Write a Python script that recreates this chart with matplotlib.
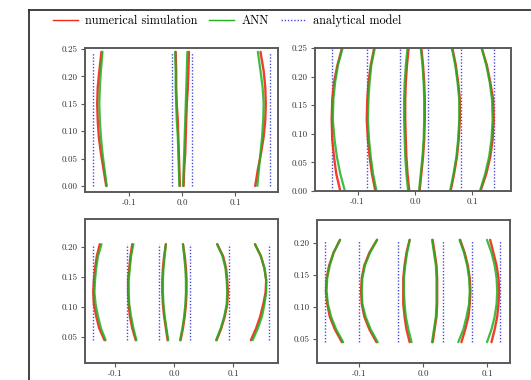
import matplotlib
matplotlib.use("Agg")
import matplotlib.pyplot as plt
from matplotlib.lines import Line2D

plt.rcParams["font.family"] = "serif"
plt.rcParams["font.serif"] = ["cmr10", "DejaVu Serif"]
plt.rcParams["mathtext.fontset"] = "cm"
plt.rcParams["axes.formatter.use_mathtext"] = True

# ---- top-left panel ----
tl_y = [0.0, 0.03, 0.06, 0.09, 0.12, 0.15, 0.18, 0.21, 0.245]
tl_sim = [
    [-0.143, -0.148, -0.153, -0.157, -0.159, -0.160, -0.159, -0.156, -0.152],
    [-0.004, -0.005, -0.006, -0.007, -0.008, -0.010, -0.011, -0.011, -0.012],
    [0.003, 0.004, 0.006, 0.007, 0.008, 0.009, 0.011, 0.012, 0.013],
    [0.138, 0.143, 0.149, 0.154, 0.157, 0.158, 0.157, 0.154, 0.148],
]
tl_ann = [
    [-0.142, -0.146, -0.150, -0.153, -0.155, -0.156, -0.155, -0.153, -0.150],
    [-0.005, -0.006, -0.007, -0.008, -0.010, -0.011, -0.012, -0.012, -0.013],
    [0.002, 0.003, 0.004, 0.005, 0.006, 0.007, 0.008, 0.009, 0.010],
    [0.142, 0.145, 0.148, 0.151, 0.153, 0.154, 0.152, 0.148, 0.143],
]
tl_model = [-0.168, -0.018, 0.018, 0.166]
tl_model_span = [0.0, 0.245]

# ---- top-right panel ----
tr_y = [0.0, 0.03, 0.06, 0.09, 0.125, 0.16, 0.19, 0.22, 0.25]
tr_sim = [
    [-0.130, -0.137, -0.141, -0.144, -0.145, -0.144, -0.141, -0.135, -0.127],
    [-0.069, -0.075, -0.079, -0.082, -0.084, -0.083, -0.081, -0.077, -0.071],
    [-0.010, -0.013, -0.015, -0.016, -0.017, -0.017, -0.016, -0.014, -0.011],
    [0.008, 0.011, 0.014, 0.016, 0.017, 0.017, 0.016, 0.014, 0.011],
    [0.062, 0.068, 0.073, 0.076, 0.078, 0.078, 0.075, 0.071, 0.065],
    [0.114, 0.124, 0.131, 0.135, 0.137, 0.136, 0.131, 0.125, 0.116],
]
tr_ann = [
    [-0.122, -0.130, -0.136, -0.140, -0.143, -0.142, -0.139, -0.134, -0.126],
    [-0.067, -0.073, -0.077, -0.080, -0.082, -0.081, -0.079, -0.076, -0.070],
    [-0.012, -0.015, -0.017, -0.018, -0.019, -0.019, -0.018, -0.016, -0.013],
    [0.007, 0.010, 0.013, 0.015, 0.016, 0.016, 0.015, 0.013, 0.010],
    [0.061, 0.067, 0.072, 0.075, 0.077, 0.077, 0.074, 0.070, 0.064],
    [0.113, 0.122, 0.129, 0.133, 0.135, 0.134, 0.130, 0.124, 0.116],
]
tr_model = [-0.145, -0.084, -0.026, 0.022, 0.080, 0.138]
tr_model_span = [0.0, 0.25]

# ---- bottom-left panel ----
bl_y = [0.045, 0.065, 0.085, 0.105, 0.125, 0.145, 0.165, 0.185, 0.205]
bl_sim = [
    [-0.118, -0.127, -0.132, -0.136, -0.137, -0.136, -0.134, -0.131, -0.126],
    [-0.065, -0.071, -0.075, -0.077, -0.078, -0.078, -0.076, -0.074, -0.071],
    [-0.011, -0.014, -0.017, -0.019, -0.020, -0.020, -0.019, -0.017, -0.014],
    [0.011, 0.015, 0.018, 0.020, 0.021, 0.021, 0.020, 0.018, 0.015],
    [0.072, 0.080, 0.086, 0.090, 0.091, 0.090, 0.088, 0.083, 0.073],
    [0.130, 0.139, 0.146, 0.151, 0.155, 0.156, 0.153, 0.147, 0.137],
]
bl_ann = [
    [-0.116, -0.124, -0.129, -0.133, -0.135, -0.134, -0.132, -0.129, -0.123],
    [-0.064, -0.069, -0.073, -0.076, -0.077, -0.077, -0.075, -0.073, -0.069],
    [-0.010, -0.013, -0.016, -0.018, -0.019, -0.019, -0.018, -0.016, -0.014],
    [0.010, 0.014, 0.017, 0.019, 0.020, 0.020, 0.019, 0.017, 0.015],
    [0.071, 0.079, 0.085, 0.089, 0.090, 0.089, 0.087, 0.082, 0.073],
    [0.133, 0.142, 0.149, 0.153, 0.156, 0.156, 0.153, 0.147, 0.137],
]
bl_model = [-0.137, -0.079, -0.025, 0.027, 0.093, 0.160]
bl_model_span = [0.045, 0.205]

# ---- bottom-right panel ----
br_y = [0.045, 0.065, 0.085, 0.105, 0.125, 0.145, 0.165, 0.185, 0.205]
br_sim = [
    [-0.127, -0.138, -0.146, -0.150, -0.152, -0.151, -0.147, -0.140, -0.130],
    [-0.073, -0.084, -0.092, -0.096, -0.097, -0.096, -0.092, -0.084, -0.072],
    [-0.021, -0.026, -0.029, -0.031, -0.031, -0.031, -0.029, -0.026, -0.021],
    [0.015, 0.018, 0.021, 0.022, 0.022, 0.022, 0.021, 0.018, 0.015],
    [0.060, 0.066, 0.071, 0.073, 0.074, 0.073, 0.070, 0.065, 0.058],
    [0.107, 0.112, 0.116, 0.118, 0.119, 0.118, 0.115, 0.110, 0.105],
]
br_ann = [
    [-0.125, -0.136, -0.144, -0.149, -0.151, -0.150, -0.146, -0.140, -0.130],
    [-0.071, -0.082, -0.090, -0.095, -0.096, -0.095, -0.091, -0.083, -0.072],
    [-0.018, -0.023, -0.027, -0.029, -0.030, -0.030, -0.028, -0.025, -0.021],
    [0.014, 0.017, 0.020, 0.021, 0.021, 0.021, 0.020, 0.017, 0.014],
    [0.055, 0.063, 0.068, 0.072, 0.073, 0.072, 0.069, 0.064, 0.057],
    [0.100, 0.107, 0.112, 0.115, 0.116, 0.115, 0.112, 0.107, 0.100],
]
br_model = [-0.153, -0.100, -0.040, 0.031, 0.076, 0.121]
br_model_span = [0.045, 0.205]

x_ticks = [-0.1, 0.0, 0.1]
y_ticks_top = [0.0, 0.05, 0.10, 0.15, 0.20, 0.25]
y_ticks_bottom = [0.05, 0.10, 0.15, 0.20]

SIM_COLOR = "#f02818"
ANN_COLOR = "#1fb01f"
MODEL_COLOR = "#4a4ad8"
FRAME_COLOR = "#5a5a5a"

W, H = 531, 380
fig = plt.figure(figsize=(W / 100, H / 100), dpi=100)


def px_axes(left, top, right, bottom):
    return fig.add_axes([left / W, 1 - bottom / H, (right - left) / W, (bottom - top) / H])


def draw_panel(ax, ys, sim, ann, model, span, xlim, ylim, yticks):
    for xs in model:
        ax.plot([xs, xs], span, linestyle=(0, (1, 1.3)), color=MODEL_COLOR, lw=1.0)
    for xs in sim:
        ax.plot(xs, ys, color=SIM_COLOR, lw=1.7, alpha=0.9, solid_capstyle="round")
    for xs in ann:
        ax.plot(xs, ys, color=ANN_COLOR, lw=1.6, alpha=0.85, solid_capstyle="round")
    ax.set_xlim(*xlim)
    ax.set_ylim(*ylim)
    ax.set_xticks(x_ticks)
    ax.set_xticklabels(["-0.1", "0.0", "0.1"])
    ax.set_yticks(yticks)
    ax.set_yticklabels([f"{v:.2f}" for v in yticks])
    ax.tick_params(labelsize=6.5, length=3, width=0.8, color=FRAME_COLOR,
                   labelcolor="#333333", pad=2)
    for sp in ax.spines.values():
        sp.set_color(FRAME_COLOR)
        sp.set_linewidth(1.4)


ax_tl = px_axes(85, 48, 278, 192)
draw_panel(ax_tl, tl_y, tl_sim, tl_ann, tl_model, tl_model_span,
           (-0.183, 0.181), (-0.011, 0.252), y_ticks_top)

ax_tr = px_axes(315, 48, 511, 191)
draw_panel(ax_tr, tr_y, tr_sim, tr_ann, tr_model, tr_model_span,
           (-0.174, 0.167), (0.0, 0.25), y_ticks_top)

ax_bl = px_axes(85, 219, 278, 363)
draw_panel(ax_bl, bl_y, bl_sim, bl_ann, bl_model, bl_model_span,
           (-0.151, 0.176), (0.007, 0.247), y_ticks_bottom)

ax_br = px_axes(317, 220, 510, 363)
draw_panel(ax_br, br_y, br_sim, br_ann, br_model, br_model_span,
           (-0.166, 0.136), (0.0125, 0.236), y_ticks_bottom)

# outer frame (left and top edges of the surrounding box)
fig.add_artist(Line2D([28.5 / W, 28.5 / W], [0, 1 - 10 / H], color="#333333", lw=1.3))
fig.add_artist(Line2D([28.5 / W, 1], [1 - 10 / H, 1 - 10 / H], color="#333333", lw=1.3))

handles = [
    Line2D([], [], color=SIM_COLOR, lw=1.0),
    Line2D([], [], color=ANN_COLOR, lw=1.0),
    Line2D([], [], color=MODEL_COLOR, lw=1.0, linestyle=(0, (1, 1.3))),
]
fig.legend(handles, ["numerical simulation", "ANN", "analytical model"],
           loc="center left", bbox_to_anchor=(0.1, 0.945), ncol=3, frameon=False,
           fontsize=8.8, handlelength=2.0, handletextpad=0.6, columnspacing=1.0,
           borderpad=0, borderaxespad=0)

fig.savefig("out.png", dpi=100)
